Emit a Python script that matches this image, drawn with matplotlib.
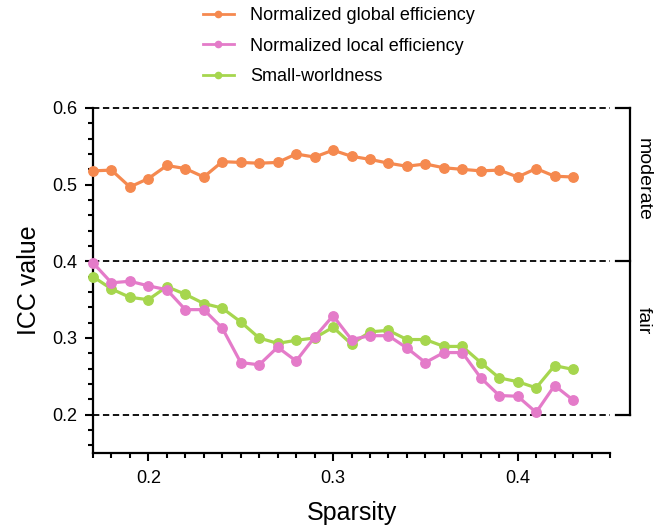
import matplotlib
matplotlib.use("Agg")
import matplotlib.pyplot as plt
from matplotlib.ticker import MultipleLocator, FixedLocator
from matplotlib.lines import Line2D

plt.rcParams['font.family'] = ['Liberation Sans', 'DejaVu Sans']

sparsity = [0.17, 0.18, 0.19, 0.20, 0.21, 0.22, 0.23, 0.24, 0.25, 0.26, 0.27, 0.28, 0.29,
            0.30, 0.31, 0.32, 0.33, 0.34, 0.35, 0.36, 0.37, 0.38, 0.39, 0.40, 0.41, 0.42, 0.43]
global_eff = [0.518, 0.519, 0.497, 0.508, 0.525, 0.521, 0.510, 0.530, 0.529, 0.528, 0.529,
              0.540, 0.536, 0.545, 0.537, 0.533, 0.528, 0.524, 0.527, 0.522, 0.520, 0.518,
              0.519, 0.510, 0.521, 0.511, 0.510]
local_eff = [0.398, 0.372, 0.374, 0.368, 0.363, 0.337, 0.337, 0.313, 0.268, 0.265, 0.288,
             0.270, 0.301, 0.329, 0.298, 0.303, 0.303, 0.287, 0.268, 0.281, 0.281, 0.248,
             0.225, 0.224, 0.203, 0.238, 0.219]
small_world = [0.380, 0.364, 0.353, 0.350, 0.367, 0.357, 0.345, 0.339, 0.321, 0.300, 0.293,
               0.297, 0.300, 0.314, 0.292, 0.308, 0.310, 0.298, 0.298, 0.289, 0.289, 0.268,
               0.248, 0.243, 0.235, 0.264, 0.259]
series_labels = ["Normalized global efficiency", "Normalized local efficiency", "Small-worldness"]
colors = ["#F5894F", "#E47BC9", "#A6D64E"]
thresholds = [0.2, 0.4, 0.6]
band_labels = ["moderate", "fair"]
band_pos = [0.507, 0.323]

fig = plt.figure(figsize=(6.54, 5.31), dpi=100)
ax = fig.add_axes([93/654, 1 - 453/531, (610 - 93)/654, (453 - 108)/531])

for y in thresholds:
    ax.axhline(y, color='black', lw=1.3, ls=(0, (3.5, 2.0)), zorder=1, clip_on=False)

ys = [global_eff, local_eff, small_world]
order = [2, 1, 0]
for i in order:
    ax.plot(sparsity, ys[i], color=colors[i], lw=2.3, marker='o', ms=6.8,
            mec=colors[i], mfc=colors[i], zorder=3 + (2 - i), clip_on=False)

ax.set_xlim(0.17, 0.45)
ax.set_ylim(0.15, 0.6)
ax.xaxis.set_major_locator(FixedLocator([0.2, 0.3, 0.4]))
ax.xaxis.set_minor_locator(MultipleLocator(0.01))
ax.yaxis.set_major_locator(FixedLocator([0.2, 0.3, 0.4, 0.5, 0.6]))
ax.yaxis.set_minor_locator(MultipleLocator(0.02))
ax.set_xticklabels(['0.2', '0.3', '0.4'])
ax.set_yticklabels(['0.2', '0.3', '0.4', '0.5', '0.6'])

for s in ['top', 'right']:
    ax.spines[s].set_visible(False)
for s in ['left', 'bottom']:
    ax.spines[s].set_linewidth(1.6)
ax.tick_params(which='major', direction='out', length=5.5, width=1.5, labelsize=13, pad=6)
ax.tick_params(which='minor', direction='out', length=3.5, width=1.5)
ax.tick_params(axis='x', which='major', pad=7)

ax.set_xlabel("Sparsity", fontsize=18, labelpad=10)
ax.set_ylabel("ICC value", fontsize=18, labelpad=8)

# bracket on the right
trans = ax.get_yaxis_transform()
def fx(px):
    return (px - 93) / (610 - 93)
ax.plot([fx(630), fx(630)], [0.2, 0.6], color='black', lw=1.6, transform=trans, clip_on=False)
for y in thresholds:
    ax.plot([fx(616), fx(630)], [y, y], color='black', lw=1.6, transform=trans, clip_on=False)
for lab, y in zip(band_labels, band_pos):
    ax.text(fx(643), y, lab, rotation=270, ha='center', va='center', fontsize=14,
            transform=trans, clip_on=False)

handles = [Line2D([], [], color=colors[i], lw=2.0, marker='o', ms=4.5) for i in range(3)]
fig.legend(handles, series_labels, loc='upper left', bbox_to_anchor=(203/654, 1 - 7/531),
           frameon=False, fontsize=13, handlelength=1.7, handletextpad=0.9,
           labelspacing=0.75, borderpad=0, borderaxespad=0)

fig.savefig("out.png", dpi=100)
